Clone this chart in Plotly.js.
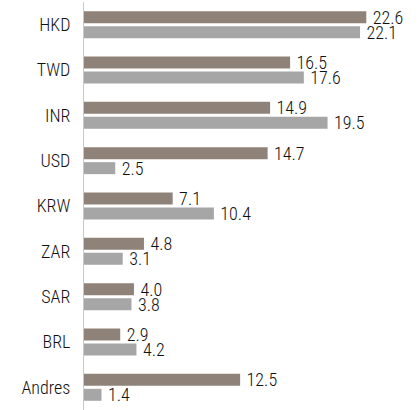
<!DOCTYPE html>
<html>
<head>
<meta charset="utf-8">
<script src="https://cdn.plot.ly/plotly-3.0.1.min.js"></script>
<style>html,body{margin:0;padding:0;background:#fff}#chart{width:420px;height:410px}</style>
</head>
<body>
<div id="chart"></div>
<script>
const categories = ["HKD", "TWD", "INR", "USD", "KRW", "ZAR", "SAR", "BRL", "Andres"];
const series1 = [22.6, 16.5, 14.9, 14.7, 7.1, 4.8, 4.0, 2.9, 12.5];
const series2 = [22.1, 17.6, 19.5, 2.5, 10.4, 3.1, 3.8, 4.2, 1.4];
const labels1 = series1.map(v => '\u2009' + v.toFixed(1));
const labels2 = series2.map(v => '\u2009' + v.toFixed(1));

const font = "'Roboto Condensed', 'Liberation Sans Narrow', Roboto, sans-serif";

const traces = [
  {type: 'bar', orientation: 'h', y: categories, x: series1, text: labels1,
   textposition: 'outside', cliponaxis: false, constraintext: 'none',
   textfont: {family: font, size: 18, color: '#111', weight: 300},
   marker: {color: '#8f8279'}, hoverinfo: 'none'},
  {type: 'bar', orientation: 'h', y: categories, x: series2, text: labels2,
   textposition: 'outside', cliponaxis: false, constraintext: 'none',
   textfont: {family: font, size: 18, color: '#111', weight: 300},
   marker: {color: '#a6a6a6'}, hoverinfo: 'none'}
];

const layout = {
  width: 420, height: 410,
  margin: {l: 84, r: 0, t: 2, b: 0, pad: 0},
  paper_bgcolor: '#fff', plot_bgcolor: '#fff',
  barmode: 'group', bargap: 0.34, bargroupgap: 0.2,
  showlegend: false,
  font: {family: font, size: 18, color: '#111', weight: 300},
  xaxis: {range: [0, 26.9], visible: false, fixedrange: true},
  yaxis: {autorange: 'reversed', showline: true, linecolor: '#c8c8c8', linewidth: 1,
          showgrid: false, zeroline: false, ticks: '', ticklabelstandoff: 9,
          tickfont: {family: font, size: 18, color: '#111', weight: 300}, fixedrange: true}
};

Plotly.newPlot('chart', traces, layout, {displayModeBar: false, staticPlot: true});
</script>
</body>
</html>
